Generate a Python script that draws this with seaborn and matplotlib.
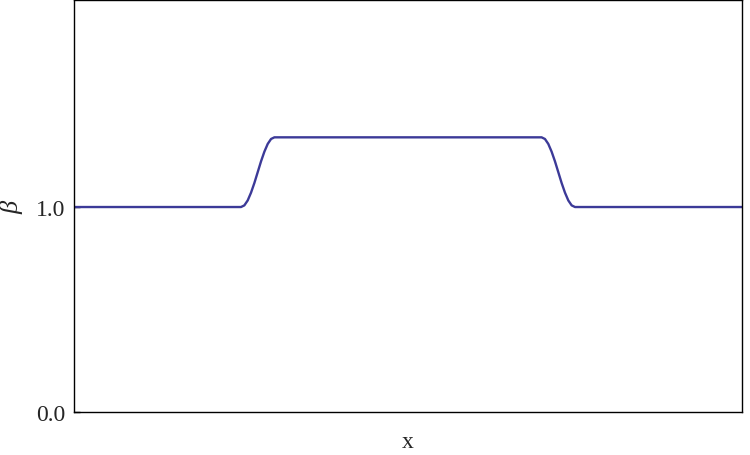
import matplotlib
matplotlib.use("Agg")
import matplotlib.pyplot as plt
import seaborn as sns
import pandas as pd

# data
x_vals = [0.00, 0.25, 0.255, 0.26, 0.265, 0.27, 0.275, 0.28, 0.285, 0.29, 0.295, 0.30,
          0.70, 0.705, 0.71, 0.715, 0.72, 0.725, 0.73, 0.735, 0.74, 0.745, 0.75, 1.00]
beta_vals = [1.00, 1.00, 1.008, 1.032, 1.070, 1.117, 1.170, 1.223, 1.270, 1.308, 1.332, 1.340,
             1.340, 1.332, 1.308, 1.270, 1.223, 1.170, 1.117, 1.070, 1.032, 1.008, 1.00, 1.00]
y_ticks = [0.0, 1.0]
y_tick_labels = ["0.0", "1.0"]

df = pd.DataFrame({"x": x_vals, "beta": beta_vals})

sns.set_theme(style="white")
SERIF = ["Liberation Serif", "DejaVu Serif"]
plt.rcParams["font.family"] = SERIF

fig = plt.figure(figsize=(7.5, 4.56), dpi=100)
ax = fig.add_axes([74/750, 43/456, 668/750, 412/456])
sns.lineplot(data=df, x="x", y="beta", ax=ax, color="#3c3a98", linewidth=1.7)

ax.set_xlim(0, 1)
ax.set_ylim(0, 2.01)
ax.set_xticks([])
ax.set_yticks(y_ticks)
ax.set_yticklabels(y_tick_labels, fontsize=17, family=SERIF)
ax.tick_params(axis="y", direction="in", length=4, width=1, color="black", pad=6, left=True)
ax.set_xlabel("x", fontsize=17, labelpad=14, family=SERIF)
ax.set_ylabel("β", fontsize=19, rotation=90, labelpad=9, family=SERIF, style="italic")
for s in ax.spines.values():
    s.set_visible(True)
    s.set_color("black")
    s.set_linewidth(1.0)

fig.savefig("out.png", dpi=100)
